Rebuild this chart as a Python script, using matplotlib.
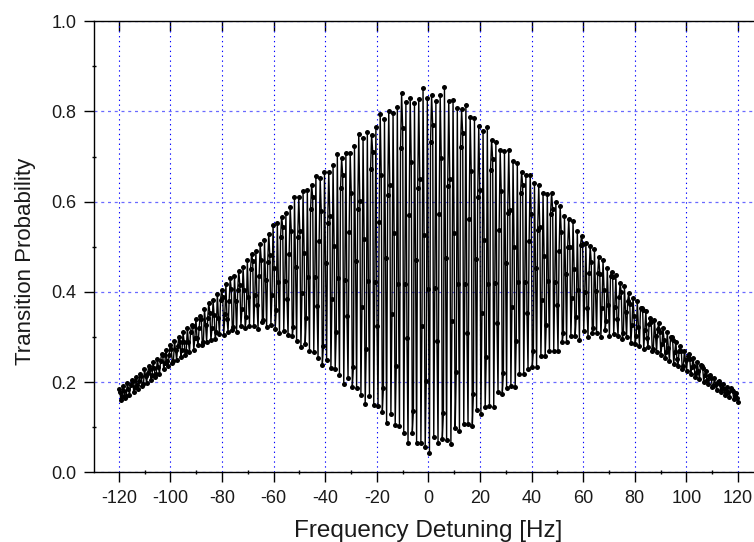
import numpy as np
import matplotlib
matplotlib.use("Agg")
import matplotlib.pyplot as plt
from matplotlib.ticker import MultipleLocator

plt.rcParams['font.family'] = ['Liberation Sans', 'DejaVu Sans']
plt.rcParams['axes.unicode_minus'] = False

# Transition probability, one row per fringe
prob = [
    .185,.178,.160,.169, .192,.181,.165,.170, .198,.184,.172,.194,
    .205,.202,.178,.190, .212,.193,.185,.202, .219,.213,.192,.195,
    .228,.214,.198,.220, .236,.228,.205,.215, .244,.231,.212,.218,
    .252,.233,.218,.247, .262,.259,.228,.243, .272,.247,.236,.259,
    .282,.274,.243,.246, .291,.271,.249,.279, .300,.289,.255,.271,
    .310,.290,.260,.270, .320,.289,.267,.312, .326,.324,.271,.297,
    .341,.297,.282,.320, .347,.340,.283,.289, .363,.327,.290,.343,
    .375,.354,.293,.319, .381,.349,.295,.312, .396,.343,.306,.383,
    .405,.389,.304,.351, .417,.340,.312,.380, .430,.406,.315,.322,
    .436,.379,.312,.405, .447,.416,.325,.362, .455,.404,.319,.345,
    .470,.388,.325,.451, .485,.468,.325,.393, .491,.372,.318,.435,
    .506,.471,.334,.338, .514,.426,.322,.467, .529,.481,.327,.393,
    .548,.454,.317,.359, .552,.421,.308,.522, .567,.544,.314,.424,
    .574,.384,.304,.484, .589,.536,.302,.323, .610,.456,.292,.521,
    .610,.534,.278,.398, .623,.486,.284,.342, .625,.432,.270,.583,
    .638,.610,.267,.432, .657,.369,.254,.512, .652,.579,.238,.281,
    .666,.463,.248,.552, .666,.569,.231,.384, .681,.502,.228,.310,
    .705,.430,.215,.630, .696,.659,.195,.427, .709,.347,.208,.533,
    .708,.620,.189,.233, .723,.468,.186,.583, .750,.602,.172,.366,
    .742,.517,.152,.274, .755,.424,.169,.672, .749,.711,.149,.423,
    .765,.325,.148,.554, .795,.660,.133,.187, .784,.475,.110,.614,
    .801,.636,.129,.350, .796,.531,.105,.236, .810,.418,.103,.719,
    .840,.763,.087,.418, .820,.297,.064,.570, .831,.688,.088,.135,
    .818,.470,.066,.630, .828,.650,.066,.325, .853,.527,.056,.202,
    .831,.407,.042,.732, .836,.771,.078,.409, .823,.292,.066,.572,
    .836,.698,.074,.131, .855,.475,.071,.635, .824,.650,.062,.336,
    .825,.531,.099,.222, .807,.418,.091,.722, .805,.752,.106,.418,
    .815,.309,.106,.561, .787,.667,.102,.173, .786,.472,.138,.610,
    .768,.625,.129,.353, .757,.516,.145,.255, .765,.418,.148,.670,
    .737,.694,.145,.420, .733,.332,.177,.538, .714,.623,.174,.220,
    .713,.464,.187,.576, .715,.581,.191,.367, .690,.499,.190,.292,
    .685,.421,.218,.620, .666,.637,.217,.422, .659,.353,.230,.512,
    .660,.573,.234,.268, .642,.454,.234,.538, .637,.543,.258,.383,
    .620,.480,.258,.327, .617,.424,.268,.572, .620,.583,.270,.423,
    .600,.372,.270,.491, .591,.533,.290,.309, .568,.440,.289,.500,
    .562,.500,.302,.387, .557,.451,.302,.344, .535,.405,.293,.505,
    .525,.506,.314,.400, .508,.364,.301,.441, .502,.466,.309,.319,
    .495,.402,.308,.441, .478,.439,.301,.365, .470,.404,.316,.336,
    .452,.372,.303,.436, .445,.434,.307,.367, .438,.339,.303,.388,
    .420,.399,.295,.308, .412,.355,.300,.380, .397,.374,.287,.326,
    .387,.346,.285,.302, .380,.323,.281,.364, .364,.359,.273,.316,
    .358,.297,.277,.328, .342,.333,.269,.274, .338,.303,.267,.318,
    .330,.312,.260,.284, .320,.293,.253,.266, .310,.275,.247,.300,
    .300,.294,.240,.267, .290,.251,.235,.270, .280,.270,.230,.235,
    .270,.248,.225,.257, .262,.251,.218,.233, .253,.236,.212,.220,
    .245,.224,.207,.239, .235,.232,.201,.216, .225,.204,.195,.214,
    .215,.209,.190,.192, .208,.196,.183,.200, .202,.196,.177,.186,
    .195,.185,.172,.176, .190,.177,.167,.186, .183,.180,.162,.171,
    .175,.165,.155,
]
detuning = np.linspace(-120, 120, len(prob))

x_ticks = [-120, -100, -80, -60, -40, -20, 0, 20, 40, 60, 80, 100, 120]
y_ticks = [0.0, 0.2, 0.4, 0.6, 0.8, 1.0]

fig = plt.figure(figsize=(7.54, 5.42), dpi=100)
ax = fig.add_axes([93.5 / 754, 1 - 472.3 / 542, (754 - 93.5) / 754, (472.3 - 21.3) / 542])

ax.plot(detuning, prob, color="black", linewidth=1.0, marker="o", markersize=3.6,
        markeredgewidth=0, zorder=3, clip_on=False)

ax.set_xlim(-129.8, 126.2)
ax.set_ylim(0, 1)
ax.set_xticks(x_ticks)
ax.set_yticks(y_ticks)
ax.set_yticklabels([f"{v:.1f}" for v in y_ticks])
ax.xaxis.set_minor_locator(MultipleLocator(10))
ax.yaxis.set_minor_locator(MultipleLocator(0.1))

# dotted vertical grid, paler dashed horizontal grid
ax.grid(True, axis="x", color="#0000ff", linewidth=0.8, linestyle=(0, (1.2, 3.2)), zorder=1)
ax.grid(True, axis="y", color="#6a6aff", linewidth=0.9, linestyle=(0, (2.4, 3.0)), zorder=1)
ax.set_axisbelow(True)

for side in ["left", "top", "bottom"]:
    ax.spines[side].set_linewidth(1.0)
ax.spines["right"].set_visible(False)

ax.tick_params(axis="both", which="major", direction="out", length=7.5, width=1.0,
               labelsize=13, pad=5, color="black", labelcolor="#1a1a1a")
ax.tick_params(axis="both", which="minor", direction="inout", length=2.5, width=1.0)

# inward ticks on the top edge
top = ax.secondary_xaxis("top")
top.set_xticks(x_ticks)
top.set_xticklabels([])
top.tick_params(axis="x", which="major", direction="in", length=7.5, width=1.0)
top.spines["top"].set_visible(False)

ax.set_xlabel("Frequency Detuning [Hz]", fontsize=17.5, color="#1a1a1a")
ax.xaxis.set_label_coords((428.5 - 93.5) / (754 - 93.5), -(536.5 - 472.3) / (472.3 - 21.3), transform=ax.transAxes)
ax.xaxis.label.set_verticalalignment("baseline")
ax.set_ylabel("Transition Probability", fontsize=16, color="#1a1a1a")
ax.yaxis.set_label_coords(-(93.5 - 26) / (754 - 93.5), (472.3 - 261) / (472.3 - 21.3), transform=ax.transAxes)
ax.yaxis.label.set_verticalalignment("center")

fig.savefig("out.png", dpi=100)
